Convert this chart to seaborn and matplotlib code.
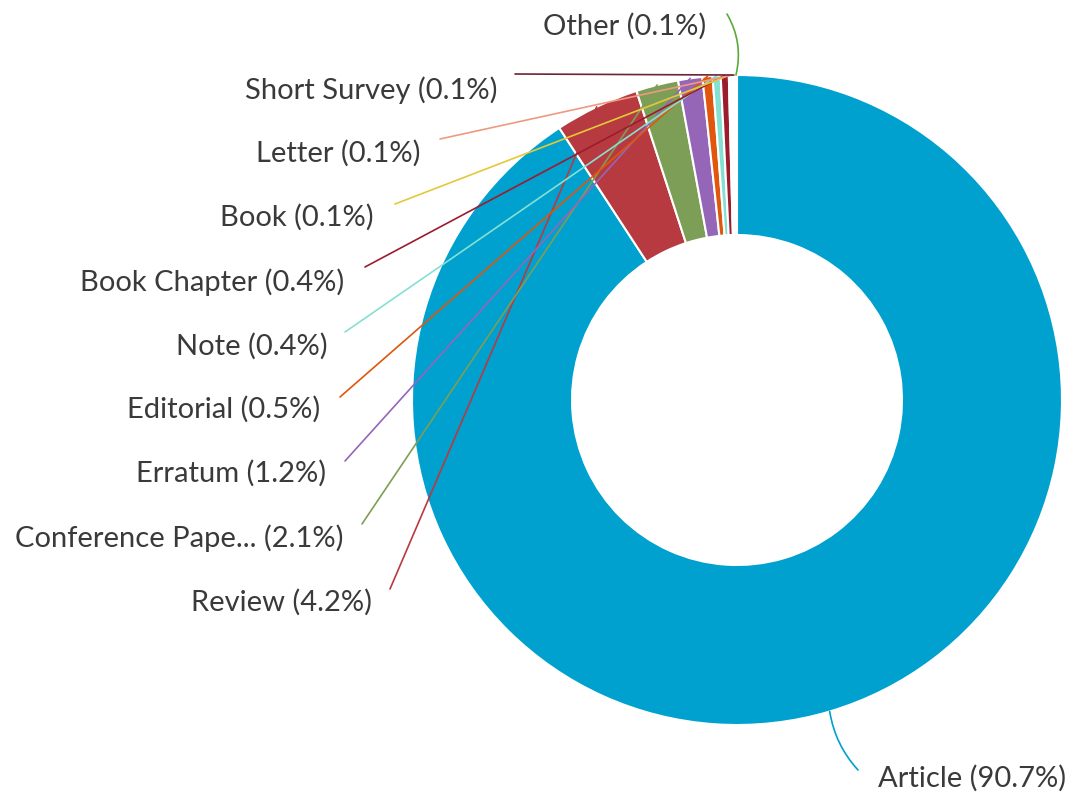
import numpy as np
import matplotlib
matplotlib.use("Agg")
import matplotlib.pyplot as plt
import seaborn as sns

# ---- data ----
categories = ["Article", "Review", "Conference Pape...", "Erratum", "Editorial", "Note",
              "Book Chapter", "Book", "Letter", "Short Survey", "Other"]
shares = [90.7, 4.2, 2.1, 1.2, 0.5, 0.4, 0.4, 0.1, 0.1, 0.1, 0.1]
colors = ["#00A0CF", "#B73A40", "#7D9E56", "#9566B8", "#E0560C", "#86E0D2",
          "#9B1D2D", "#E3C93A", "#EE9A7F", "#6E2433", "#5BAA3A"]

# ---- layout (pixels) ----
W, H = 1073, 803
CX, CY, R, RIN = 737, 401, 325, 165
label_right = [878, 372, 343, 326, 320, 328, 344, 374, 420, 497, 706]
label_cy = [778, 602, 538, 473, 409, 346, 282, 217, 153, 90, 26]
line_start = [(858, 771), (390, 590), (362, 525), (345, 462), (340, 398), (345, 333),
              (365, 268), (395, 205), (440, 140), (515, 75), (727, 15)]
curv = [-0.15, 0, 0, 0, 0, 0, 0, 0, 0, 0, -0.2]

sns.set_theme(style="white")
plt.rcParams["font.family"] = ["Lato", "DejaVu Sans"]

fig = plt.figure(figsize=(W / 100, H / 100), dpi=100)
ax = fig.add_axes([0, 0, 1, 1])

def Y(py):
    return H - py

wedges, _ = ax.pie(shares, colors=colors, startangle=90, counterclock=False,
                   center=(CX, Y(CY)), radius=R, frame=True,
                   wedgeprops=dict(width=R - RIN, edgecolor="white", linewidth=1.5))
ax.set_xlim(0, W)
ax.set_ylim(0, H)
ax.set_aspect("equal")
ax.axis("off")

txtcol = "#3a3a3a"
for i, (w, name, val) in enumerate(zip(wedges, categories, shares)):
    mid = np.deg2rad((w.theta1 + w.theta2) / 2)
    ex, ey = CX + R * np.cos(mid), Y(CY) + R * np.sin(mid)
    sx, sy = line_start[i]
    ax.annotate("", xy=(ex, ey), xytext=(sx, Y(sy)),
                arrowprops=dict(arrowstyle="-", color=colors[i], lw=1.2,
                                shrinkA=0, shrinkB=0,
                                connectionstyle=f"arc3,rad={curv[i]}"),
                zorder=5)
    lab = f"{name} ({val:.1f}%)"
    ha = "left" if i == 0 else "right"
    ax.text(label_right[i], Y(label_cy[i]), lab, ha=ha, va="center",
            fontsize=21, color=txtcol)

fig.savefig("out.png", dpi=100, facecolor="white")
